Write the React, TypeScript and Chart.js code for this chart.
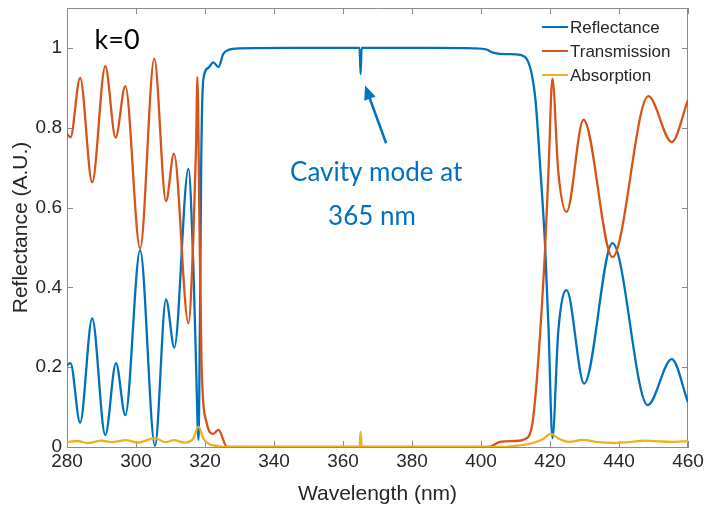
import React, { useEffect, useRef } from 'react';
import { Chart, registerables } from 'chart.js';

Chart.register(...registerables);

// ---------- data ----------
const reflWl = [280, 281, 283.8, 287.3, 291.1, 294.2, 296.9, 301.2, 305.5, 308.7, 311.1, 315.2, 316.6, 317.4, 318.1, 318.6, 318.9, 319.5, 321, 322.4, 323.9, 325.3, 326.8, 330, 345, 364.8, 365.1, 365.4, 385, 398, 401.6, 403.5, 405.5, 409.9, 412.8, 415.7, 417.1, 418.6, 419.6, 420.7, 422.4, 424.8, 429.9, 438.1, 448.3, 455.3, 460];
const reflVal = [0.205, 0.21, 0.061, 0.322, 0.03, 0.21, 0.08, 0.493, 0.003, 0.37, 0.249, 0.697, 0.46, 0.21, 0.018, 0.376, 0.71, 0.92, 0.95, 0.964, 0.952, 0.985, 0.995, 0.999, 1.0, 1.0, 0.934, 1.0, 1.0, 0.999, 0.996, 0.988, 0.985, 0.984, 0.977, 0.877, 0.71, 0.5, 0.29, 0.022, 0.29, 0.393, 0.159, 0.511, 0.105, 0.22, 0.112];

const transWl = [280, 281, 283.8, 287.3, 291.1, 294.1, 296.9, 301.2, 305.3, 308.7, 311.0, 315.2, 316.6, 317.4, 317.8, 318.4, 319.0, 320.5, 322.4, 323.9, 326.3, 330, 400, 402.6, 405.5, 409.9, 412.8, 414.7, 415.7, 417.1, 418.6, 419.6, 420.7, 422.4, 424.8, 429.7, 438.1, 448.5, 455.3, 460];
const transVal = [0.785, 0.776, 0.925, 0.663, 0.954, 0.775, 0.904, 0.497, 0.973, 0.616, 0.735, 0.31, 0.52, 0.75, 0.927, 0.56, 0.21, 0.06, 0.033, 0.043, 0.001, 0, 0, 0.001, 0.013, 0.015, 0.02, 0.05, 0.12, 0.28, 0.5, 0.7, 0.923, 0.69, 0.589, 0.82, 0.476, 0.879, 0.764, 0.87];

const absWl = [280, 283, 286, 290, 293, 297, 300.5, 305.5, 308.5, 311, 314, 316.5, 318.1, 319.5, 321, 323.5, 326, 364.8, 365.1, 365.4, 405, 410, 415, 418, 420.2, 422.5, 425.5, 429.5, 434, 438.5, 443, 447.5, 452, 456, 460];
const absVal = [0.012, 0.015, 0.01, 0.016, 0.012, 0.017, 0.011, 0.022, 0.012, 0.017, 0.011, 0.02, 0.051, 0.022, 0.008, 0.003, 0, 0, 0.038, 0, 0, 0.003, 0.01, 0.02, 0.033, 0.021, 0.013, 0.018, 0.012, 0.01, 0.012, 0.016, 0.014, 0.013, 0.015];

const xTicks = [280, 300, 320, 340, 360, 380, 400, 420, 440, 460];
const yTicks = [0, 0.2, 0.4, 0.6, 0.8, 1];
const yTickLabels = ['0', '0.2', '0.4', '0.6', '0.8', '1'];

const seriesNames = ['Reflectance', 'Transmission', 'Absorption'];
const seriesColors = ['#0072BD', '#D95319', '#EDB120'];

const annotationLines = ['Cavity mode at', '365 nm'];
const panelLabel = 'k=0';
const xTitle = 'Wavelength (nm)';
const yTitle = 'Reflectance (A.U.)';

// ---------- styling ----------
const FONT = '"Liberation Sans", Arial, Helvetica, sans-serif';
const AXIS_COLOR = '#8a8a8a';
const TEXT_COLOR = '#262626';
const NOTE_COLOR = '#0070C0';

const toPoints = (xs: number[], ys: number[]) => xs.map((x, i) => ({ x, y: ys[i] }));

const decorPlugin = {
  id: 'decor',
  beforeDatasetsDraw(chart: any) {
    const { ctx, chartArea: a, scales } = chart;
    const xs = scales.x;
    const ys = scales.y;
    ctx.save();
    ctx.strokeStyle = AXIS_COLOR;
    ctx.lineWidth = 1;
    ctx.beginPath();
    ctx.moveTo(a.left, a.top + 0.5);
    ctx.lineTo(a.right, a.top + 0.5);
    ctx.moveTo(a.right - 0.5, a.top);
    ctx.lineTo(a.right - 0.5, a.bottom);
    const tl = 6;
    xTicks.forEach((v) => {
      const px = Math.round(xs.getPixelForValue(v)) + 0.5;
      ctx.moveTo(px, a.bottom);
      ctx.lineTo(px, a.bottom - tl);
      ctx.moveTo(px, a.top);
      ctx.lineTo(px, a.top + tl);
    });
    yTicks.forEach((v) => {
      const py = Math.round(ys.getPixelForValue(v)) + 0.5;
      ctx.moveTo(a.left, py);
      ctx.lineTo(a.left + tl, py);
      ctx.moveTo(a.right, py);
      ctx.lineTo(a.right - tl, py);
    });
    ctx.stroke();
    ctx.restore();
  },
  afterDatasetsDraw(chart: any) {
    const { ctx, chartArea: a, scales } = chart;
    const xs = scales.x;
    const ys = scales.y;
    ctx.save();

    // panel label
    ctx.fillStyle = '#000';
    ctx.font = '27px Lato, "Open Sans", sans-serif';
    ctx.textAlign = 'center';
    ctx.textBaseline = 'middle';
    ctx.fillText(panelLabel, xs.getPixelForValue(294.5), ys.getPixelForValue(1.019));

    // annotation text
    ctx.fillStyle = NOTE_COLOR;
    ctx.font = '26px Lato, "Open Sans", sans-serif';
    ctx.fillText(annotationLines[0], xs.getPixelForValue(369.6), ys.getPixelForValue(0.688));
    ctx.fillText(annotationLines[1], xs.getPixelForValue(368.4), ys.getPixelForValue(0.578));

    // arrow
    const hx = xs.getPixelForValue(366.4);
    const hy = ys.getPixelForValue(0.906);
    const tx = xs.getPixelForValue(372.5);
    const ty = ys.getPixelForValue(0.761);
    const ang = Math.atan2(hy - ty, hx - tx);
    const headLen = 14;
    const headW = 6;
    ctx.strokeStyle = NOTE_COLOR;
    ctx.lineWidth = 2.5;
    ctx.beginPath();
    ctx.moveTo(tx, ty);
    ctx.lineTo(hx - Math.cos(ang) * headLen * 0.8, hy - Math.sin(ang) * headLen * 0.8);
    ctx.stroke();
    ctx.beginPath();
    ctx.moveTo(hx, hy);
    const bx = hx - Math.cos(ang) * headLen;
    const by = hy - Math.sin(ang) * headLen;
    ctx.lineTo(bx + Math.sin(ang) * headW, by - Math.cos(ang) * headW);
    ctx.lineTo(bx - Math.sin(ang) * headW, by + Math.cos(ang) * headW);
    ctx.closePath();
    ctx.fill();

    // legend
    const lx = a.right - 146;
    const rowY = [a.top + 19, a.top + 43, a.top + 67];
    ctx.font = '17px ' + FONT;
    ctx.textAlign = 'left';
    ctx.textBaseline = 'middle';
    seriesNames.forEach((name, i) => {
      ctx.strokeStyle = seriesColors[i];
      ctx.lineWidth = 2;
      ctx.beginPath();
      ctx.moveTo(lx, rowY[i]);
      ctx.lineTo(lx + 26, rowY[i]);
      ctx.stroke();
      ctx.fillStyle = TEXT_COLOR;
      ctx.fillText(name, lx + 28, rowY[i] + 1);
    });
    ctx.restore();
  },
};

export default function App() {
  const ref = useRef<HTMLCanvasElement | null>(null);

  useEffect(() => {
    if (!ref.current) return;
    const series = [
      toPoints(reflWl, reflVal),
      toPoints(transWl, transVal),
      toPoints(absWl, absVal),
    ];
    const chart = new Chart(ref.current, {
      type: 'line',
      data: {
        datasets: series.map((pts, i) => ({
          label: seriesNames[i],
          data: pts,
          borderColor: seriesColors[i],
          backgroundColor: seriesColors[i],
          borderWidth: 2.3,
          pointRadius: 0,
          fill: false,
          cubicInterpolationMode: 'monotone' as const,
          order: 2 - i,
        })),
      },
      options: {
        responsive: false,
        animation: false,
        devicePixelRatio: 1,
        layout: { padding: { left: 0, top: 8, right: 18, bottom: 0 } },
        plugins: { legend: { display: false }, tooltip: { enabled: false } },
        scales: {
          x: {
            type: 'linear',
            min: 280,
            max: 460,
            grid: { display: false, drawTicks: false },
            border: { display: true, color: AXIS_COLOR, width: 1 },
            afterBuildTicks: (s: any) => {
              s.ticks = xTicks.map((v) => ({ value: v }));
            },
            afterFit: (s: any) => {
              s.height = 63;
              s.paddingLeft = 0;
              s.paddingRight = 0;
            },
            ticks: {
              padding: 3,
              color: TEXT_COLOR,
              font: { family: FONT, size: 19, lineHeight: 1.2 },
              maxRotation: 0,
              callback: (_v: any, i: number) => String(xTicks[i]),
            },
            title: {
              display: true,
              text: xTitle,
              color: TEXT_COLOR,
              font: { family: FONT, size: 21, lineHeight: 1.2 },
              padding: { top: 0, bottom: 3 },
            },
          },
          y: {
            type: 'linear',
            min: 0,
            max: 1.1,
            grid: { display: false, drawTicks: false },
            border: { display: true, color: AXIS_COLOR, width: 1 },
            afterBuildTicks: (s: any) => {
              s.ticks = yTicks.map((v) => ({ value: v }));
            },
            afterFit: (s: any) => {
              s.width = 67;
              s.paddingTop = 0;
              s.paddingBottom = 0;
            },
            ticks: {
              padding: 5,
              color: TEXT_COLOR,
              font: { family: FONT, size: 19, lineHeight: 1.2 },
              callback: (_v: any, i: number) => yTickLabels[i],
            },
            title: {
              display: true,
              text: yTitle,
              color: TEXT_COLOR,
              font: { family: FONT, size: 21, lineHeight: 1.2 },
              padding: { top: 9, bottom: 0 },
            },
          },
        },
      },
      plugins: [decorPlugin],
    });
    return () => chart.destroy();
  }, []);

  return (
    <div style={{ position: 'fixed', left: 0, top: 0, width: 706, height: 510, background: '#fff' }}>
      <canvas ref={ref} width={706} height={510} style={{ display: 'block' }} />
    </div>
  );
}
